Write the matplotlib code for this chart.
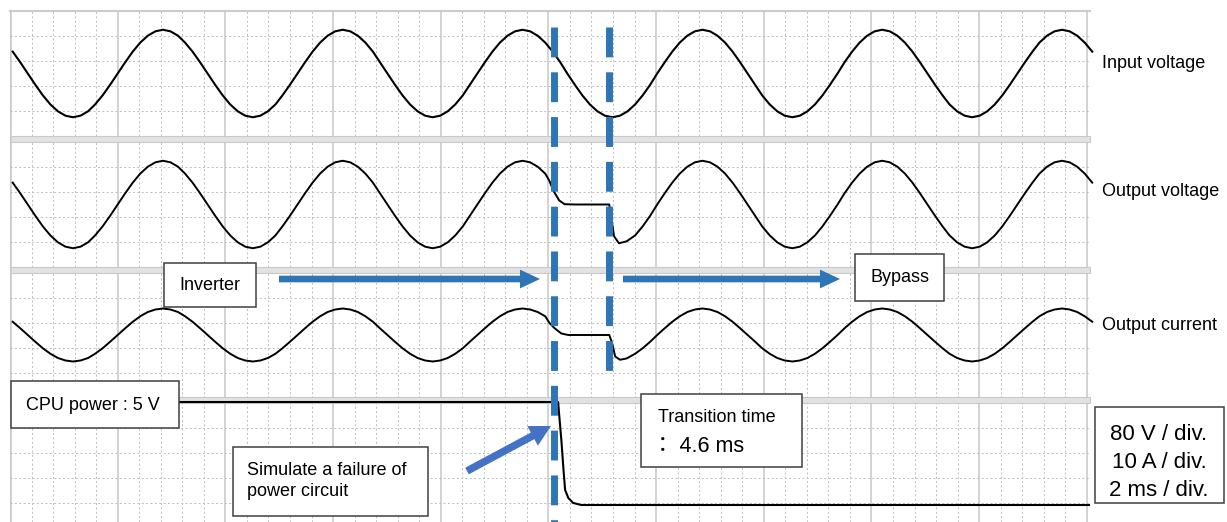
import numpy as np
import matplotlib.pyplot as plt
from matplotlib.patches import Rectangle
from matplotlib.transforms import blended_transform_factory

plt.rcParams['font.family'] = ['Liberation Sans', 'Noto Sans CJK JP', 'DejaVu Sans']

# scope samples, time in ms (2 ms / div)
t_ms = [0.05, 0.19, 0.33, 0.47, 0.61, 0.75, 0.89, 1.03, 1.17, 1.31, 1.45, 1.58,
        1.72, 1.86, 2.00, 2.14, 2.28, 2.42, 2.56, 2.70, 2.84, 2.98, 3.12, 3.25,
        3.39, 3.53, 3.67, 3.81, 3.95, 4.09, 4.23, 4.37, 4.51, 4.65, 4.79, 4.93,
        5.06, 5.20, 5.34, 5.48, 5.62, 5.76, 5.90, 6.04, 6.18, 6.32, 6.46, 6.60,
        6.74, 6.87, 7.01, 7.15, 7.29, 7.43, 7.57, 7.71, 7.85, 7.99, 8.13, 8.27,
        8.41, 8.54, 8.68, 8.82, 8.96, 9.10, 9.24, 9.38, 9.52, 9.66, 9.80, 9.94,
        10.08, 10.22, 10.35, 10.49, 10.63, 10.77, 10.91, 11.05, 11.19, 11.33, 11.47, 11.61,
        11.75, 11.89, 12.02, 12.16, 12.30, 12.44, 12.58, 12.72, 12.86, 13.00, 13.14, 13.28,
        13.42, 13.56, 13.70, 13.84, 13.97, 14.11, 14.25, 14.39, 14.53, 14.67, 14.81, 14.95,
        15.09, 15.23, 15.37, 15.50, 15.64, 15.78, 15.92, 16.06, 16.20, 16.34, 16.48, 16.62,
        16.76, 16.90, 17.04, 17.18, 17.32, 17.45, 17.59, 17.73, 17.87, 18.01, 18.15, 18.29,
        18.43, 18.57, 18.71, 18.85, 18.99, 19.12, 19.26, 19.40, 19.54, 19.68, 19.82, 19.96,
        20.10]

# input voltage, V (80 V / div)
input_v = [70, 36, 0, -36, -70, -99, -121, -135, -140, -135, -121, -99,
           -70, -36, 0, 36, 70, 99, 121, 135, 140, 135, 121, 99,
           70, 36, 0, -36, -70, -99, -121, -135, -140, -135, -121, -99,
           -70, -36, 0, 36, 70, 99, 121, 135, 140, 135, 121, 99,
           70, 36, 0, -36, -70, -99, -121, -135, -140, -135, -121, -99,
           -70, -36, 0, 36, 70, 99, 121, 135, 140, 135, 121, 99,
           70, 36, 0, -36, -70, -99, -121, -135, -140, -135, -121, -99,
           -70, -36, 0, 36, 70, 99, 121, 135, 140, 135, 121, 99,
           70, 36, 0, -36, -70, -99, -121, -135, -140, -135, -121, -99,
           -70, -36, 0, 36, 70, 99, 121, 135, 140, 135, 121, 99,
           70, 36, 0, -36, -70, -99, -121, -135, -140, -135, -121, -99,
           -70, -36, 0, 36, 70, 99, 121, 135, 140, 135, 121, 99,
           70]

# output current, A (10 A / div)
out_i = [5.3, 2.7, 0, -2.7, -5.3, -7.5, -9.2, -10.2, -10.6, -10.2, -9.2, -7.5,
         -5.3, -2.7, 0, 2.7, 5.3, 7.5, 9.2, 10.2, 10.6, 10.2, 9.2, 7.5,
         5.3, 2.7, 0, -2.7, -5.3, -7.5, -9.2, -10.2, -10.6, -10.2, -9.2, -7.5,
         -5.3, -2.7, 0, 2.7, 5.3, 7.5, 9.2, 10.2, 10.6, 10.2, 9.2, 7.5,
         5.3, 2.7, 0, -2.7, -5.3, -7.5, -9.2, -10.2, -10.6, -10.2, -9.2, -7.5,
         -5.3, -2.7, 0, 2.7, 5.3, 7.5, 9.2, 10.2, 10.6, 10.2, 9.2, 7.5,
         5.3, 2.7, 0, -2.7, -5.3, -7.5, -9.2, -10.2, -10.6, -10.2, -9.2, -7.5,
         -5.3, -2.7, 0, 2.7, 5.3, 7.5, 9.2, 10.2, 10.6, 10.2, 9.2, 7.5,
         5.3, 2.7, 0, -2.7, -5.3, -7.5, -9.2, -10.2, -10.6, -10.2, -9.2, -7.5,
         -5.3, -2.7, 0, 2.7, 5.3, 7.5, 9.2, 10.2, 10.6, 10.2, 9.2, 7.5,
         5.3, 2.7, 0, -2.7, -5.3, -7.5, -9.2, -10.2, -10.6, -10.2, -9.2, -7.5,
         -5.3, -2.7, 0, 2.7, 5.3, 7.5, 9.2, 10.2, 10.6, 10.2, 9.2, 7.5,
         5.3]

# transfer segment (inverter -> bypass)
xfer_v_t = [10.02, 10.09, 10.20, 10.30, 10.50, 11.13, 11.22, 11.31, 11.45]
xfer_v = [75, 45, 13, 1, 0, 0, -102, -124, -118]
xfer_i_t = [10.02, 10.11, 10.24, 10.37, 11.13, 11.18, 11.24, 11.33, 11.45]
xfer_i = [4.8, 2.8, 0.6, 0, 0, -3.0, -8.6, -9.9, -9.4]

# CPU power supply, V
cpu_t = [0.06, 10.18, 10.20, 10.24, 10.28, 10.31, 10.37, 10.46, 10.61, 20.04]
cpu_v = [5.0, 5.0, 4.37, 3.16, 1.70, 0.73, 0.34, 0.10, 0.0, 0.0]

fail_ms = 10.11
bypass_ms = 11.13

out_v_t = t_ms[:72] + xfer_v_t + t_ms[83:]
out_v = input_v[:72] + xfer_v + input_v[83:]
out_i_t = t_ms[:72] + xfer_i_t + t_ms[83:]
out_i2 = out_i[:72] + xfer_i + out_i[83:]

W, H = 1227, 522
fig = plt.figure(figsize=(W / 100, H / 100), dpi=100)

bg = fig.add_axes([0, 0, 1, 1], zorder=-1)
bg.set_xlim(0, W)
bg.set_ylim(H, 0)
bg.axis('off')
for y0 in [136, 267, 397]:
    bg.add_patch(Rectangle((10, y0), 1080, 6, fc='#e2e2e2', ec='#c9c9c9', lw=0.8))
bg.plot([10, 1090], [11, 11], color='#cccccc', lw=1.5)
bg.plot([10.5, 10.5], [11, 522], color='#cccccc', lw=1.2)

# (top px, height px, units per div, zero level in div)
panels = [(11, 125, 80, 2.5), (142, 125, 80, 2.5), (272.5, 125, 10, 2.5), (403, 119, 5 / 4.12, 0.92)]
axes = []
for top, h, upd, zero in panels:
    ax = fig.add_axes([10 / W, (H - top - h) / H, 1079 / W, h / H])
    ax.set_facecolor('none')
    ax.set_xlim(0.056, 20.04)
    d_lo = 5 - h / 25
    ax.set_ylim((d_lo - zero) * upd, (5 - zero) * upd)
    ax.set_yticks([(d - zero) * upd for d in [1, 2, 3, 4]])
    ax.set_xticks(np.arange(0, 20.01, 2))
    ax.set_xticks(np.arange(0, 20.04, 0.4), minor=True)
    ax.grid(axis='x', which='major', color='#c8c8c8', lw=1.1, ls='-')
    ax.grid(axis='x', which='minor', color='#bdbdbd', lw=0.7, ls=(0, (2, 2.5)))
    ax.grid(axis='y', which='major', color='#bdbdbd', lw=0.7, ls=(0, (2, 2.5)))
    ax.tick_params(which='both', length=0, labelbottom=False, labelleft=False)
    for s in ax.spines.values():
        s.set_visible(False)
    axes.append(ax)

axes[0].plot(t_ms, input_v, color='black', lw=1.5, clip_on=False)
axes[1].plot(out_v_t, out_v, color='black', lw=1.4, clip_on=False)
axes[2].plot(out_i_t, out_i2, color='black', lw=1.4, clip_on=False)
axes[3].plot(cpu_t, cpu_v, color='black', lw=1.5, clip_on=False)

fg = fig.add_axes([0, 0, 1, 1], zorder=5)
fg.set_facecolor('none')
fg.set_xlim(0, W)
fg.set_ylim(H, 0)
fg.axis('off')

# event lines, x from the scope time scale
tr = blended_transform_factory(axes[0].transData, fg.transData)
blue = '#2E75B6'
fg.plot([fail_ms, fail_ms], [27, 522], color=blue, lw=5.0, dashes=(4.3, 2.15),
        transform=tr, clip_on=False)
fg.plot([bypass_ms, bypass_ms], [27, 372], color=blue, lw=5.0, dashes=(4.3, 2.15),
        transform=tr, clip_on=False)

def arrow(x0, y0, x1, y1, color, hw=13.5, hl=14.4, tw=4.8):
    fg.annotate('', xy=(x1, y1), xytext=(x0, y0),
                arrowprops=dict(arrowstyle=f'simple,head_length={hl},head_width={hw},tail_width={tw}',
                                mutation_scale=1, fc=color, ec='none', shrinkA=0, shrinkB=0))

arrow(279, 279, 540, 279, blue)
arrow(623, 279, 840, 279, blue)
arrow(467, 471, 551, 426, '#4472C4', hw=16, hl=15, tw=5.4)

def box(x0, y0, x1, y1):
    fg.add_patch(Rectangle((x0, y0), x1 - x0, y1 - y0, fc='white', ec='#404040', lw=1.1))

box(11, 381, 179, 428)
fg.text(26, 405, 'CPU power : 5 V', fontsize=13, va='center', ha='left')
box(164, 263, 256, 307)
fg.text(210, 286, 'Inverter', fontsize=13, va='center', ha='center')
box(855, 254, 944, 301)
fg.text(900, 278, 'Bypass', fontsize=13, va='center', ha='center')
box(233, 447, 428, 516)
fg.text(247, 481, 'Simulate a failure of\npower circuit', fontsize=13, va='center', ha='left',
        linespacing=1.25)
box(641, 394, 802, 467)
fg.text(717, 417, 'Transition time', fontsize=13, va='center', ha='center')
fg.text(652, 446, '： 4.6 ms', fontsize=15.5, va='center', ha='left')
box(1095, 407, 1224, 503)
for y, s in zip([434, 462, 491], ['80 V / div.', '10 A / div.', '2 ms / div.']):
    fg.text(1159, y, s, fontsize=16, va='center', ha='center')

for y, s in zip([64, 192, 326], ['Input voltage', 'Output voltage', 'Output current']):
    fg.text(1102, y, s, fontsize=13, va='center', ha='left')

fig.savefig('out.png', dpi=100)
